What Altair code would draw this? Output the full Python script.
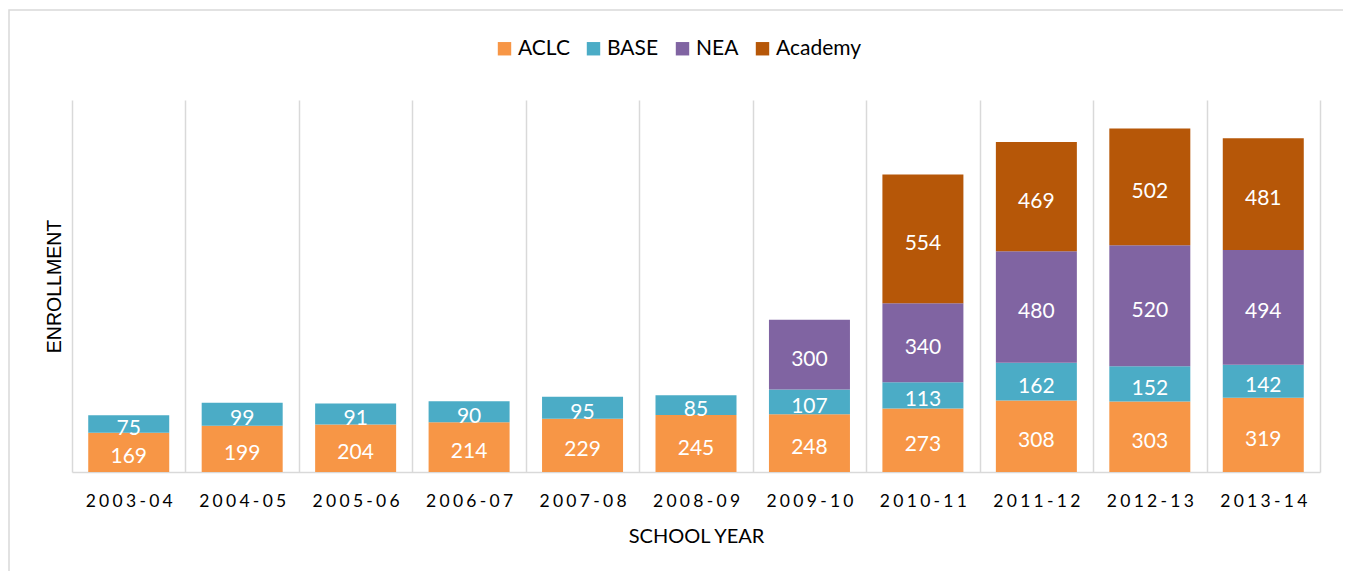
import altair as alt
import pandas as pd

years = ["2003-04", "2004-05", "2005-06", "2006-07", "2007-08", "2008-09",
         "2009-10", "2010-11", "2011-12", "2012-13", "2013-14"]
programs = ["ACLC", "BASE", "NEA", "Academy"]
colors = ["#F79646", "#4BACC6", "#8064A2", "#B65708"]

aclc = [169, 199, 204, 214, 229, 245, 248, 273, 308, 303, 319]
base = [75, 99, 91, 90, 95, 85, 107, 113, 162, 152, 142]
nea = [None, None, None, None, None, None, 300, 340, 480, 520, 494]
academy = [None, None, None, None, None, None, None, 554, 469, 502, 481]

rows = []
for series, name in zip([aclc, base, nea, academy], programs):
    for y, v in zip(years, series):
        if v is not None:
            rows.append({"year": y, "program": name, "value": v,
                         "order": programs.index(name)})
df = pd.DataFrame(rows)

FONT = "Lato"

base_chart = alt.Chart(df).transform_stack(
    stack="value", groupby=["year"], sort=[alt.SortField("order")],
    as_=["y0", "y1"]
).transform_calculate(mid="(datum.y0 + datum.y1) / 2")

xenc = alt.X("year:N", sort=years,
             scale=alt.Scale(paddingInner=0, paddingOuter=0),
             axis=alt.Axis(title="SCHOOL YEAR", labelAngle=0, grid=True,
                           tickBand="extent", ticks=False,
                           gridColor="#D9D9D9", gridWidth=1.5,
                           domainColor="#D9D9D9", domainWidth=1.5,
                           labelFont=FONT, labelFontSize=17.5, labelColor="#000000",
                           labelPadding=20,
                           labelExpr="join(split(datum.label, ''), '\u2009\u200a')",
                           titleFont=FONT, titleFontSize=20, titleFontWeight="normal",
                           titleColor="#000000", titlePadding=17))

yscale = alt.Scale(domain=[0, 1600], nice=False)

bars = base_chart.mark_bar(size=81).encode(
    x=xenc,
    y=alt.Y("y0:Q", scale=yscale,
            axis=alt.Axis(title="ENROLLMENT", labels=False, ticks=False,
                          domain=False, grid=False, titleFont="Liberation Sans",
                          titleFontSize=19.5, titleFontWeight="normal",
                          titleColor="#000000", titlePadding=8)),
    y2="y1:Q",
    color=alt.Color("program:N", sort=programs,
                    scale=alt.Scale(domain=programs, range=colors),
                    legend=alt.Legend(title=None, orient="none", direction="horizontal",
                                      legendX=422, legendY=-62,
                                      symbolType="square", symbolSize=180,
                                      symbolStrokeWidth=0, symbolOpacity=1,
                                      labelFont=FONT, labelFontSize=21,
                                      labelColor="#000000", labelOffset=3,
                                      columnPadding=13)),
    order=alt.Order("order:Q"),
)

labels = base_chart.mark_text(color="white", font=FONT, fontSize=21,
                              baseline="middle", align="center", dy=5).encode(
    x=alt.X("year:N", sort=years),
    y=alt.Y("mid:Q", scale=yscale),
    text=alt.Text("value:Q"),
)

frame = alt.Chart(pd.DataFrame({"a": [0]})).mark_rect(
    fill=None, stroke="#D9D9D9", strokeWidth=1.5
).encode(x=alt.value(-63), x2=alt.value(1276), y=alt.value(-90), y2=alt.value(600))

chart = alt.layer(frame, bars, labels).properties(
    width=1248, height=372,
    autosize=alt.AutoSizeParams(type="none"),
    padding={"left": 64, "top": 92, "right": 23, "bottom": 99},
).configure(background="white", view=alt.ViewConfig(stroke=None))

chart.save("out.html", embed_options={"renderer": "svg", "actions": False})
